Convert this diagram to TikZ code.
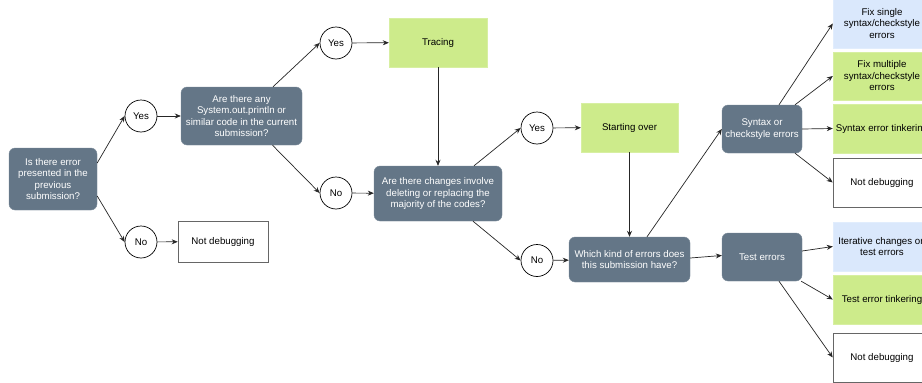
\documentclass[tikz,border=0pt]{standalone}
\usepackage{fontspec}
\setmainfont{Liberation Sans}
\usetikzlibrary{arrows.meta}
\definecolor{slate}{HTML}{647687}
\definecolor{grn}{HTML}{CDEB8B}
\definecolor{blu}{HTML}{DAE8FC}
\begin{document}
\begin{tikzpicture}[x=1pt,y=-1pt,
  every node/.style={font=\fontsize{9.7}{11.5}\selectfont, align=center, inner sep=0pt},
  qbox/.style={fill=slate, draw=slate!85!white, rounded corners=6pt, text=white},
  circ/.style={circle, draw=black, fill=white, minimum size=32pt, line width=0.7pt},
  gbox/.style={fill=grn, draw=grn!80!white, minimum width=98pt, minimum height=49pt},
  bbox/.style={fill=blu, draw=blu!80!white, minimum width=98pt, minimum height=49pt},
  wbox/.style={fill=white, draw=black!60, line width=0.6pt, minimum width=98pt, minimum height=49pt},
  arr/.style={-{Stealth[length=6pt,width=5pt]}, line width=0.7pt, draw=black!85}
]
\clip (0,0) rectangle (922,383);
\fill[white] (0,0) rectangle (922,383);

\node[qbox, minimum width=88pt, minimum height=62pt] (start) at (53,179) {Is there error\\presented in the\\previous\\submission?};
\node[circ] (yes1) at (141,116) {Yes};
\node[circ] (no1) at (141,242) {No};
\node[wbox, minimum width=90pt, minimum height=41pt] (nd1) at (223,241.5) {Not debugging};
\node[qbox, minimum width=121pt, minimum height=58pt] (q2) at (241.5,116) {Are there any\\System.out.println or\\similar code in the current\\submission?};
\node[circ] (yes2) at (336,43) {Yes};
\node[gbox] (tracing) at (438,42.5) {Tracing};
\node[circ] (no2) at (336,193) {No};
\node[qbox, minimum width=128pt, minimum height=55pt] (q3) at (438,193.5) {Are there changes involve\\deleting or replacing the\\majority of the codes?};
\node[circ] (yes3) at (537,128) {Yes};
\node[gbox, minimum width=97pt] (over) at (629.5,127.5) {Starting over};
\node[circ] (no3) at (537,260.5) {No};
\node[qbox, minimum width=121pt, minimum height=45pt] (q4) at (629.5,259.5) {Which kind of errors does\\this submission have?};
\node[qbox, minimum width=80pt, minimum height=48pt] (syntax) at (762,129) {Syntax or\\checkstyle errors};
\node[qbox, minimum width=80pt, minimum height=48pt] (test) at (762,257) {Test errors};
\node[bbox] (fix1) at (882,23.5) {Fix single\\syntax/checkstyle\\errors};
\node[gbox, minimum height=48pt] (fix2) at (882,76) {Fix multiple\\syntax/checkstyle\\errors};
\node[gbox] (syntaxt) at (882,128.5) {Syntax error tinkering};
\node[wbox] (nd2) at (882,182.5) {Not debugging};
\node[bbox] (iter) at (882,246.5) {Iterative changes on\\test errors};
\node[gbox] (testt) at (882,299.5) {Test error tinkering};
\node[wbox] (nd3) at (882,357.5) {Not debugging};

\draw[arr] ([yshift=16pt]start.east) -- (yes1.west);
\draw[arr] ([yshift=-17pt]start.east) -- (no1.west);
\draw[arr] (yes1) -- (q2);
\draw[arr] (no1) -- (nd1);
\draw[arr] ([xshift=31.5pt]q2.north) -- (yes2.west);
\draw[arr] ([xshift=31pt]q2.south) -- (no2.west);
\draw[arr] (yes2) -- (tracing);
\draw[arr] (tracing) -- (q3);
\draw[arr] (no2) -- (q3);
\draw[arr] ([xshift=36pt]q3.north) -- (yes3.west);
\draw[arr] ([xshift=35pt]q3.south) -- (no3.west);
\draw[arr] (yes3) -- (over);
\draw[arr] (over) -- (q4);
\draw[arr] (no3) -- (q4);
\draw[arr] ([xshift=17.5pt]q4.north) -- (syntax.west);
\draw[arr] ([yshift=1.5pt]q4.east) -- ([yshift=1.5pt]test.west);
\draw[arr] ([xshift=17pt]syntax.north) -- (fix1.west);
\draw[arr] ([xshift=33pt]syntax.north) -- (fix2.west);
\draw[arr] (syntax.east) -- (syntaxt.west);
\draw[arr] ([xshift=33pt]syntax.south) -- (nd2.west);
\draw[arr] ([yshift=6pt]test.east) -- (iter.west);
\draw[arr] ([xshift=-1pt]test.south east) -- (testt.west);
\draw[arr] ([xshift=17pt]test.south) -- (nd3.west);
\end{tikzpicture}
\end{document}
